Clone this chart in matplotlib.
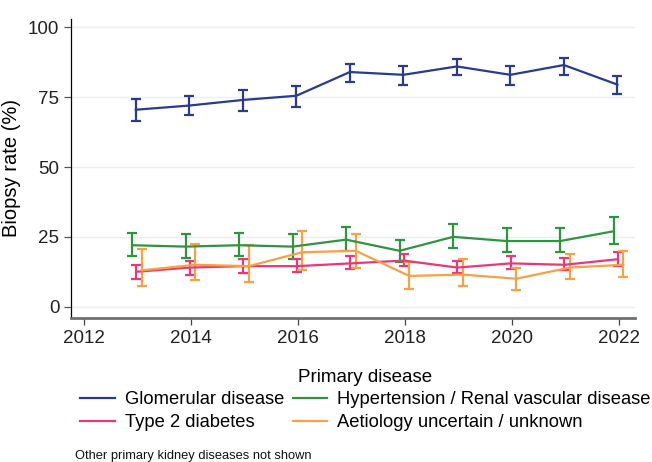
import matplotlib
matplotlib.use("Agg")
import matplotlib.pyplot as plt
import numpy as np

plt.rcParams['font.family'] = ['Liberation Sans', 'DejaVu Sans']

years = [2013, 2014, 2015, 2016, 2017, 2018, 2019, 2020, 2021, 2022]

glom = [70.5, 72, 74, 75.5, 84, 83, 86, 83, 86.5, 79.5]
glom_lo = [66.5, 68.5, 70, 71.5, 80.5, 79.5, 83, 79.5, 83, 76]
glom_hi = [74.5, 75.5, 77.5, 79, 87, 86, 88.5, 86, 89, 82.5]

hyp = [22, 21.5, 22, 21.5, 24, 20, 25, 23.5, 23.5, 27]
hyp_lo = [18, 17.5, 18, 17, 20, 16, 21, 19.5, 19.5, 22.5]
hyp_hi = [26.5, 26, 26.5, 26, 28.5, 24, 29.5, 28, 28, 32]

t2d = [12.5, 14, 14.5, 14.5, 15.5, 16.5, 14, 15.5, 15, 17]
t2d_lo = [10, 11.5, 12, 12.5, 13.5, 14.5, 12, 13.5, 13, 14.5]
t2d_hi = [15, 16.5, 17, 17, 18, 19, 16.5, 18, 17.5, 19.5]

unk = [13, 15, 14.5, 19.5, 20, 11, 11.5, 10, 14, 15]
unk_lo = [7.5, 9.5, 9, 13, 14, 6.5, 7.5, 6, 10, 10.5]
unk_hi = [20.5, 22.5, 22, 27, 26, 16, 17, 14, 19, 20]

labels = ["Glomerular disease", "Hypertension / Renal vascular disease",
          "Type 2 diabetes", "Aetiology uncertain / unknown"]
colors = ["#2a3a8f", "#2e9440", "#e8387a", "#f7a044"]
offsets = [-0.03, -0.1, -0.02, 0.08]

fig = plt.figure(figsize=(6.52, 4.62), dpi=100)
ax = fig.add_axes([0.109, 0.312, 0.865, 0.647])

series = [(glom, glom_lo, glom_hi), (hyp, hyp_lo, hyp_hi),
          (t2d, t2d_lo, t2d_hi), (unk, unk_lo, unk_hi)]
handles = []
for (v, lo, hi), lab, c, off in zip(series, labels, colors, offsets):
    x = np.array(years) + off
    v = np.array(v); lo = np.array(lo); hi = np.array(hi)
    ax.errorbar(x, v, yerr=[v - lo, hi - v], color=c, lw=1.6,
                elinewidth=1.6, capsize=3.3, capthick=1.6)
    h, = ax.plot([], [], color=c, lw=1.6, label=lab)
    handles.append(h)

ax.set_xlim(2011.76, 2022.3)
ax.set_ylim(-4, 103)
ax.set_yticks([0, 25, 50, 75, 100])
ax.set_xticks([2012, 2014, 2016, 2018, 2020, 2022])
ax.yaxis.grid(True, color="#e6eff1", lw=1)
ax.set_axisbelow(True)
for s in ["top", "right"]:
    ax.spines[s].set_visible(False)
ax.spines["left"].set_color("black")
ax.spines["left"].set_linewidth(0.9)
ax.spines["bottom"].set_color("#707070")
ax.spines["bottom"].set_linewidth(2)
ax.tick_params(axis="both", labelsize=13.5, colors="#222222", length=5)
ax.tick_params(axis="y", color="#555555", width=0.9)
ax.tick_params(axis="x", color="#444444", width=0.9)
ax.set_ylabel("Biopsy rate (%)", fontsize=14.5)
ax.yaxis.set_label_coords(-0.088, 0.5)

# order handles so column-wise fill gives rows: [glom, hyp], [t2d, unk]
order = [0, 2, 1, 3]
leg = fig.legend(handles=[handles[i] for i in order], labels=[labels[i] for i in order],
                 loc="upper left", bbox_to_anchor=(80 / 652, 1 - 369 / 462),
                 ncol=2, frameon=False, fontsize=13.2, title="Primary disease",
                 title_fontsize=13.5, handlelength=1.9, handletextpad=0.55,
                 columnspacing=0.45, labelspacing=0.3, borderaxespad=0,
                 borderpad=0)
fig.text(75 / 652, 1 - 459 / 462, "Other primary kidney diseases not shown",
         fontsize=9.3, color="#111111", va="baseline")

fig.savefig("out.png", dpi=100)
